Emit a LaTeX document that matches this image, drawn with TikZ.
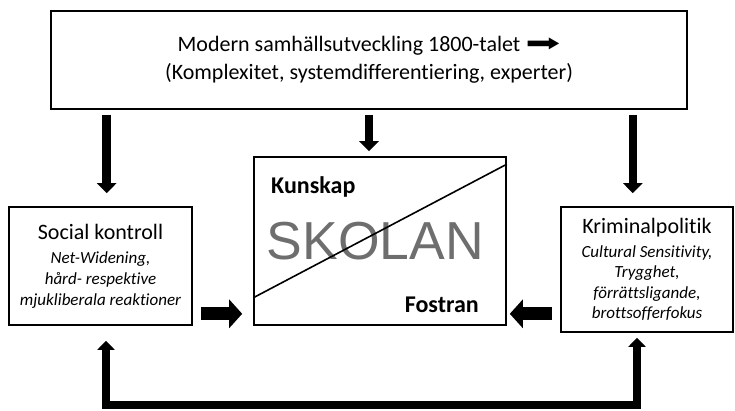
\documentclass[tikz,border=0pt]{standalone}
\usepackage{fontspec}
\usepackage{graphicx}
\setmainfont{Carlito}[Ligatures=NoCommon]
\newfontfamily\skolfont{Liberation Sans}
\newfontfamily\pilfont{DejaVu Sans}
\usetikzlibrary{arrows.meta}
\definecolor{skolgray}{RGB}{110,110,110}

\begin{document}
\begin{tikzpicture}[x=1pt, y=-1pt,
	box/.style={draw, line width=1.6pt, inner sep=0pt, align=center},
	plain/.style={inner sep=0pt},
	downarrow/.style={line width=8.5pt, -{Triangle[length=10pt, width=19pt]}},
	sidearrow/.style={line width=13pt, -{Triangle[length=13pt, width=28pt]}},
	backarrow/.style={line width=8pt, {Triangle[length=9pt, width=17pt]}-{Triangle[length=9pt, width=17pt]}}]
	\useasboundingbox (0,0) rectangle (735,410);
	\node[box, minimum width=636pt, minimum height=98pt, font=\fontsize{22}{28}\selectfont] (top) at (369,60)
		{Modern samhällsutveckling 1800-talet {\pilfont\scalebox{1.9}[1.1]{➡}}\\(Komplexitet, systemdifferentiering, experter)};
	\node[box, minimum width=183pt, minimum height=118pt, font=\fontsize{17}{21}\selectfont\itshape] (sk) at (100.5,266)
		{{\upshape\fontsize{22}{26}\selectfont Social kontroll}\\[3pt]Net-Widening,\\hård- respektive\\mjukliberala reaktioner};
	\node[box, minimum width=252pt, minimum height=168pt] (sc) at (380,241) {};
	\node[box, minimum width=172pt, minimum height=125pt, font=\fontsize{17}{20.5}\selectfont\itshape] (kp) at (647,269.5)
		{{\upshape\fontsize{22}{26}\selectfont Kriminalpolitik}\\[3pt]Cultural Sensitivity,\\Trygghet,\\förrättsligande,\\brottsofferfokus};
	\node[plain, anchor=base, text=skolgray, font=\skolfont\fontsize{53.5}{60}\selectfont] (skolan) at (375.5,259) {SKOLAN};
	\node[plain, anchor=base west, font=\bfseries\fontsize{24}{28}\selectfont] (kunskap) at (271,193) {Kunskap};
	\node[plain, anchor=base east, font=\bfseries\fontsize{24}{28}\selectfont] (fostran) at (479,312) {Fostran};
	\draw[line width=1.6pt] ([yshift=28pt]sc.south west) -- ([yshift=-8pt]sc.north east);
	\draw[downarrow, shorten <=5pt, shorten >=13pt] ([xshift=56.5pt]top.south west) -- ([xshift=56.5pt]top.south west |- sk.north);
	\draw[downarrow, shorten <=5pt, shorten >=5pt] (top.south) -- (top.south |- sc.north);
	\draw[downarrow, shorten <=5pt, shorten >=13pt] ([xshift=-55pt]top.south east) -- ([xshift=-55pt]top.south east |- kp.north);
	\draw[sidearrow, shorten <=8pt, shorten >=11pt] ([yshift=12pt]sk.south east) -- ([yshift=12pt]sk.south east -| sc.west);
	\draw[sidearrow, shorten <=8pt, shorten >=3pt] ([yshift=12pt]sc.south east -| kp.west) -- ([yshift=12pt]sc.south east);
	\coordinate (fb) at (370,405);
	\draw[backarrow, shorten <=15pt, shorten >=5pt] ([xshift=5.5pt]sk.south) |- (fb) -| ([xshift=-10pt]kp.south);
\end{tikzpicture}
\end{document}
